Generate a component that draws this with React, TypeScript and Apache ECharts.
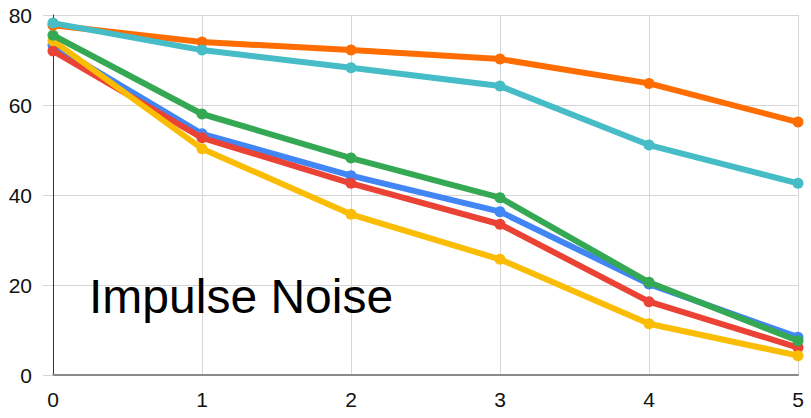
import React, { useEffect, useRef } from "react";
import * as echarts from "echarts";

const xValues = [0, 1, 2, 3, 4, 5];
const yTicks = [0, 20, 40, 60, 80];
const seriesNames = ["Blue", "Red", "Yellow", "Green", "Orange", "Cyan"];
const blueValues = [73.3, 53.6, 44.3, 36.3, 20.2, 8.4];
const redValues = [72.0, 52.7, 42.6, 33.5, 16.3, 6.1];
const yellowValues = [74.3, 50.3, 35.7, 25.7, 11.4, 4.3];
const greenValues = [75.5, 58.0, 48.2, 39.4, 20.6, 7.6];
const orangeValues = [77.7, 74.0, 72.2, 70.2, 64.8, 56.2];
const cyanValues = [78.2, 72.2, 68.3, 64.2, 51.1, 42.6];
const titleText = "Impulse Noise";

const allValues = [blueValues, redValues, yellowValues, greenValues, orangeValues, cyanValues];
const colors = ["#4285F4", "#EA4335", "#FBBC04", "#34A853", "#FF6D01", "#46BDC6"];

export default function App() {
  const ref = useRef<HTMLDivElement>(null);
  useEffect(() => {
    if (!ref.current) return;
    const chart = echarts.init(ref.current, null, { renderer: "svg" });
    const font = "Liberation Sans, Arial, sans-serif";
    chart.setOption({
      animation: false,
      backgroundColor: "#ffffff",
      title: {
        text: titleText,
        left: 89,
        top: 272,
        padding: 0,
        textStyle: { fontSize: 48, fontWeight: "normal", color: "#000", fontFamily: font },
      },
      grid: { left: 53, right: 13, top: 15, bottom: 43, containLabel: false },
      xAxis: {
        type: "value",
        min: xValues[0],
        max: xValues[xValues.length - 1],
        interval: 1,
        axisLine: { show: true, onZero: false, lineStyle: { color: "#8a8a8a", width: 2 } },
        axisTick: { show: false },
        splitLine: { show: true, lineStyle: { color: "#d6d6d6", width: 1 } },
        axisLabel: { color: "#111", fontSize: 21, fontFamily: font, margin: 14 },
      },
      yAxis: {
        type: "value",
        min: yTicks[0],
        max: yTicks[yTicks.length - 1],
        interval: 20,
        axisLine: { show: true, lineStyle: { color: "#333", width: 1 } },
        axisTick: { show: true, length: 10, lineStyle: { color: "#d6d6d6", width: 1 } },
        splitLine: { show: true, lineStyle: { color: "#d6d6d6", width: 1 } },
        axisLabel: { color: "#111", fontSize: 21, fontFamily: font, margin: 21 },
      },
      series: allValues.map((vals, i) => ({
        name: seriesNames[i],
        type: "line",
        data: vals.map((v, j) => [xValues[j], v]),
        symbol: "circle",
        symbolSize: 11,
        z: 2 + i,
        lineStyle: { color: colors[i], width: 6 },
        itemStyle: { color: colors[i] },
      })),
    });
    return () => chart.dispose();
  }, []);
  return <div ref={ref} style={{ width: 811, height: 418, position: "absolute", left: 0, top: 0 }} />;
}
